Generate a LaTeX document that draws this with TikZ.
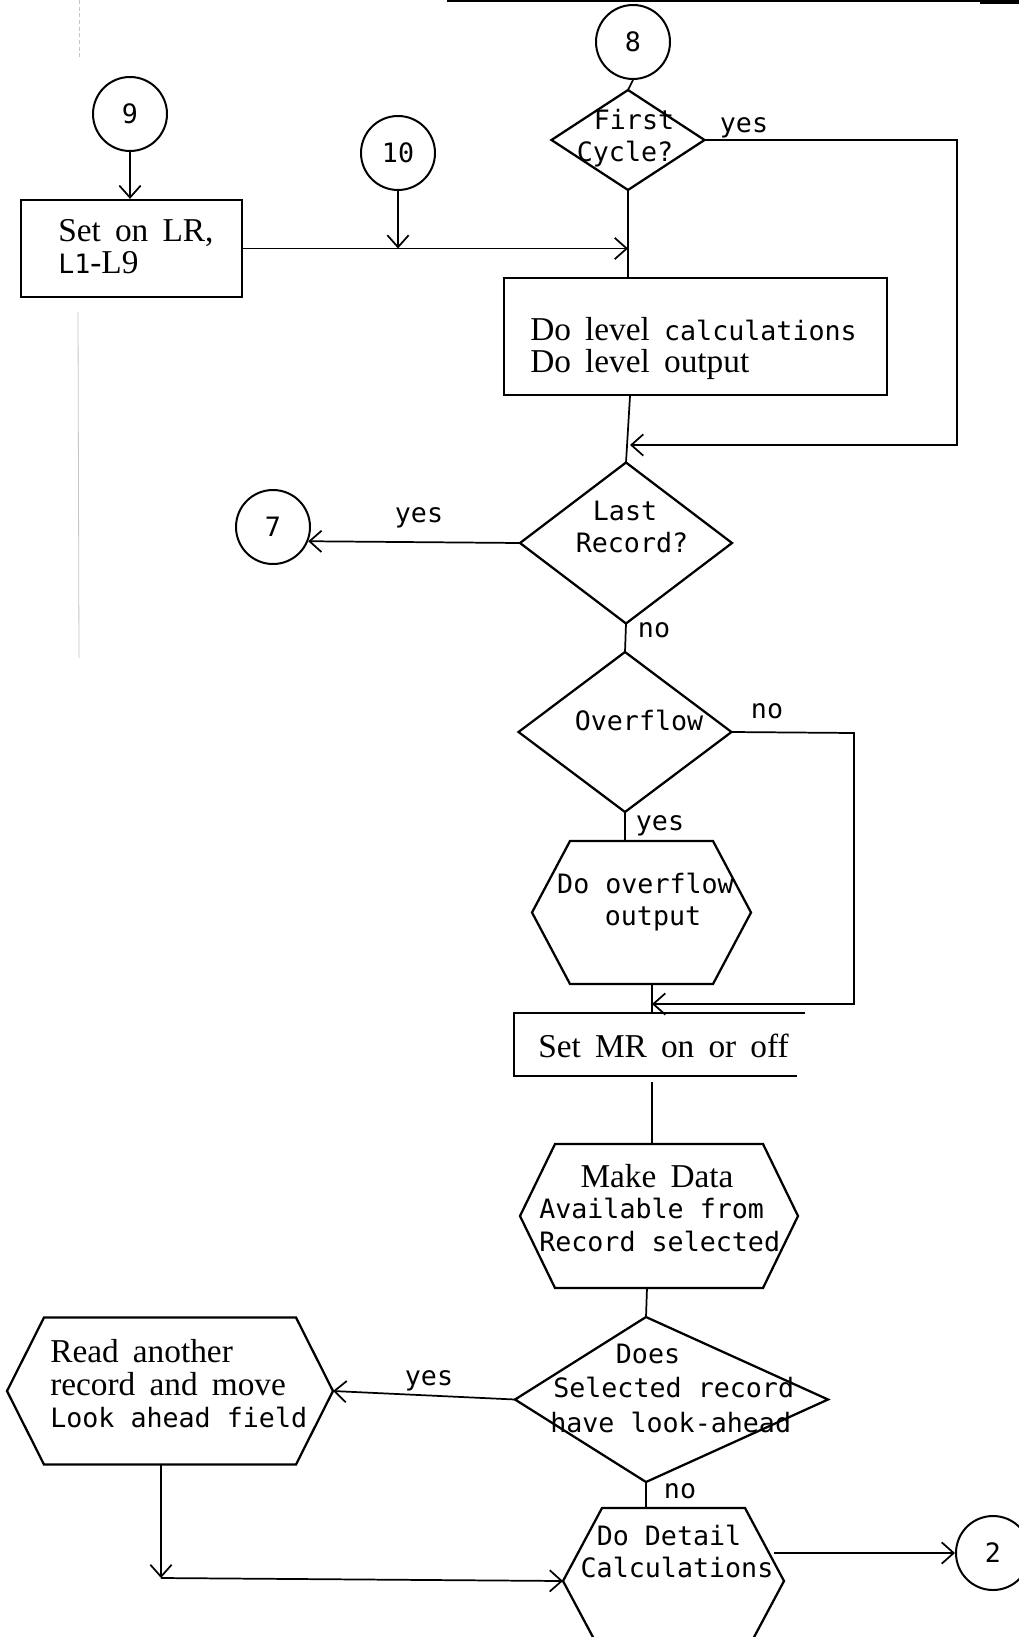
\documentclass[tikz,border=0pt]{standalone}
\usepackage{fontspec}
\setmainfont{Liberation Serif}[WordSpace=1.7]
\newfontfamily\mono{DejaVu Sans Mono}
\usetikzlibrary{arrows.meta,calc}
\newcommand\px[1]{#1*0.75pt}
\newcommand\mtx{\mono\fontsize{20}{23}\selectfont}
\newcommand\hexdraw[2]{\draw[shp] ($(#1.north west)+(#2,0)$) -- ($(#1.north east)+(-#2,0)$) -- (#1.east) -- ($(#1.south east)+(-#2,0)$) -- ($(#1.south west)+(#2,0)$) -- (#1.west) -- cycle;}
\newcommand\diadraw[1]{\draw[shp] (#1.north) -- (#1.east) -- (#1.south) -- (#1.west) -- cycle;}
\begin{document}
\begin{tikzpicture}[x=0.75pt,y=-0.75pt,
  shp/.style={line width=1.7pt},
  con/.style={line width=1.3pt},
  arr/.style={con,-{Straight Barb[length=9pt,width=16pt]}},
  conn/.style={circle,draw,line width=1.5pt,minimum size=\px{74},inner sep=0pt,font=\mtx},
  box/.style={draw,shp,inner sep=0pt},
  frame/.style={inner sep=0pt,outer sep=0pt},
  mt/.style={font=\mtx,inner sep=0pt},
  st/.style={font=\fontsize{25}{24}\selectfont,inner sep=0pt}
]
\useasboundingbox (0,0) rectangle (1019,1637);
\fill[white] (0,0) rectangle (1019,1637);
\clip (0,0) rectangle (1019,1637);

% scan artefacts
\draw[gray!45,line width=0.6pt] (78,312) -- (79,658);
\draw[gray!45,line width=0.5pt,dash pattern=on 3pt off 2pt] (79,0) -- (79,60);
\draw[line width=0.8pt] (447,1) -- (1019,1);
\draw[line width=3pt] (980,2) -- (1019,2);

% connectors (circles)
\node[conn] (c9) at (130,114) {9};
\node[conn] (c10) at (398,153) {10};
\node[conn] (c8) at (633,42) {8};
\node[conn] (c7) at (273,527) {7};
\node[conn] (c2) at (993,1553) {2};

% Set on LR box
\node[box,minimum width=\px{221},minimum height=\px{97}] (lr) at (131.5,248.5) {};
\node[st,anchor=base west] (lrt1) at (58,242) {Set on LR,};
\node[st,anchor=base west] (lrt2) at (58,273) {{\mtx L1}-L9};

% First cycle diamond
\node[frame,minimum width=\px{153},minimum height=\px{100}] (fc) at (628,140) {};
\diadraw{fc}
\node[mt,anchor=base] (fct1) at (634,130) {First};
\node[mt,anchor=base] (fct2) at (625,162) {Cycle?};
\node[mt,anchor=base] (fcy) at (744,133) {yes};

% Level box
\node[box,minimum width=\px{383},minimum height=\px{117}] (lvl) at (695.5,336.5) {};
\node[st,anchor=base west] (lvt1) at (530,340) {Do level {\mtx calculations}};
\node[st,anchor=base west] (lvt2) at (530,372) {Do level output};

% Last record diamond
\node[frame,minimum width=\px{212},minimum height=\px{161}] (lrd) at (626,543) {};
\diadraw{lrd}
\node[mt,anchor=base] (lrdt1) at (625,520) {Last};
\node[mt,anchor=base] (lrdt2) at (632,552) {Record?};
\node[mt,anchor=base] (lrdy) at (419,522) {yes};
\node[mt,anchor=base] (lrdn) at (654,637) {no};

% Overflow diamond
\node[frame,minimum width=\px{213},minimum height=\px{160}] (ov) at (625,732) {};
\diadraw{ov}
\node[mt,anchor=base] (ovt) at (639,730) {Overflow};
\node[mt,anchor=base] (ovn) at (767,718) {no};
\node[mt,anchor=base] (ovy) at (660,830) {yes};

% Overflow output hexagon
\node[frame,minimum width=\px{219},minimum height=\px{143}] (ovh) at (641.5,912.5) {};
\hexdraw{ovh}{38}
\node[mt,anchor=base] (ovht1) at (645.5,893) {Do overflow};
\node[mt,anchor=base] (ovht2) at (653,925) {output};

% Set MR box (open at right)
\node[frame,minimum width=\px{291},minimum height=\px{63}] (mr) at (659.5,1044.5) {};
\draw[shp] (mr.north east) -- (mr.north west) -- (mr.south west) -- ($(mr.south east)+(-8,0)$);
\node[st,anchor=base west] (mrt) at (538,1057) {Set MR on or off};

% Make data hexagon
\node[frame,minimum width=\px{278},minimum height=\px{144}] (mk) at (659,1216) {};
\hexdraw{mk}{35}
\node[st,anchor=base] (mkt1) at (657,1187) {Make Data};
\node[mt,anchor=base west] (mkt2) at (539,1218) {Available from};
\node[mt,anchor=base west] (mkt3) at (539,1251) {Record selected};

% Does diamond (asymmetric)
\node[frame,minimum width=\px{313},minimum height=\px{165}] (ds) at (671.5,1399.5) {};
\coordinate (dsT) at ($(ds.north west)+(131,0)$);
\coordinate (dsB) at ($(ds.south west)+(131,0)$);
\draw[shp] (dsT) -- (ds.east) -- (dsB) -- (ds.west) -- cycle;
\node[mt,anchor=base] (dst1) at (648,1363) {Does};
\node[mt,anchor=base west] (dst2) at (553,1397) {Selected record};
\node[mt,anchor=base west] (dst3) at (550,1432) {have look-ahead};
\node[mt,anchor=base] (dsy) at (429,1385) {yes};
\node[mt,anchor=base] (dsn) at (680,1498) {no};

% Read another hexagon
\node[frame,minimum width=\px{326},minimum height=\px{147}] (rd) at (170,1391) {};
\hexdraw{rd}{37}
\node[st,anchor=base west] (rdt1) at (50,1362) {Read another};
\node[st,anchor=base west] (rdt2) at (50,1395) {record and move};
\node[mt,anchor=base west] (rdt3) at (50,1427) {Look ahead field};

% Detail hexagon
\node[frame,minimum width=\px{221},minimum height=\px{146}] (dt) at (673.5,1581) {};
\hexdraw{dt}{39}
\node[mt,anchor=base] (dtt1) at (669,1545) {Do Detail};
\node[mt,anchor=base] (dtt2) at (677,1577) {Calculations};

% helper coordinates
\coordinate (j1) at (fc.south |- lr.east);
\coordinate (fcR) at (957,140);
\coordinate (j2) at (630,445);
\coordinate (ovR) at (854,733);
\coordinate (j3) at (652,1004);
\coordinate (j4) at (647,1300);
\coordinate (rc) at (161,1578);
\coordinate (dtR) at (774,1553);

% flow lines
\draw[arr] (c9.south) -- (c9.south |- lr.north);
\draw[arr] (c10.south) -- (c10.south |- lr.east);
\draw[arr] (lr.east) -- (j1);
\draw[con] (c8.south) -- (fc.north);
\draw[con] (fc.south) -- (fc.south |- lvl.north);
\draw[arr] (fc.east) -- (fcR) |- (j2);
\draw[con] (j2 |- lvl.south) -- (lrd.north);
\draw[arr] (lrd.west) -- (c7.-22);
\draw[con] (lrd.south) -- (ov.north);
\draw[arr] (ov.east) -- (ovR) |- (j3);
\draw[con] (ov.south) -- (ov.south |- ovh.north);
\draw[con] (j3 |- ovh.south) -- (j3 |- mr.north);
\draw[con] ($(j3 |- mr.south)+(0,6)$) -- (j3 |- mk.north);
\draw[con] (j4 |- mk.south) -- (dsT);
\draw[arr] (ds.west) -- (rd.east);
\draw[con] (dsB) -- (dsB |- dt.north);
\draw[arr] (rc |- rd.south) -- (rc);
\draw[arr] (rc) -- (dt.west);
\draw[arr] (dtR) -- (c2.west);
\end{tikzpicture}
\end{document}
